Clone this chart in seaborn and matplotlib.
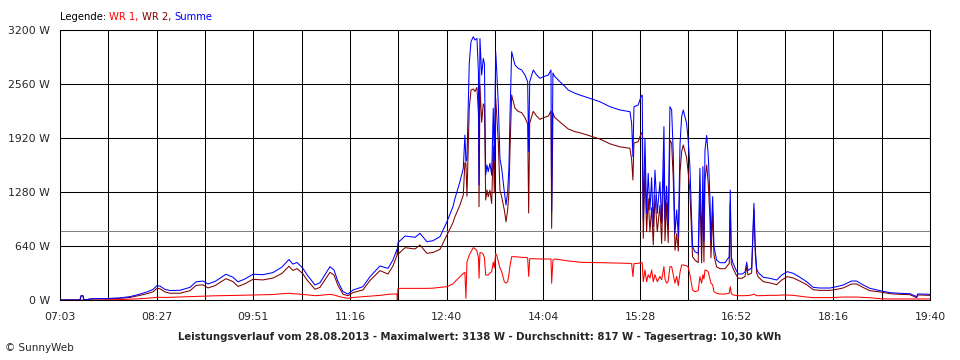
import numpy as np
import pandas as pd
import matplotlib
matplotlib.use("Agg")
import matplotlib.pyplot as plt
import seaborn as sns

# ---- data (time in minutes since midnight, power in W) ----
minutes = [423, 440.4, 441.3, 443.0, 443.9, 450.8, 457.8, 464.8, 475.2, 483.9,
           492.6, 499.6, 503.9, 507.4, 510.0, 514.4, 518.7, 527.4, 536.1, 541.3,
           547.4, 551.8, 557.9, 567.4, 573.5, 577.9, 584.0, 590.9, 599.6, 608.3,
           616.1, 622.2, 625.7, 629.2, 634.4, 637.9, 644.9, 649.2, 657.9, 661.4,
           664.9, 669.2, 673.6, 677.9, 686.6, 692.7, 701.4, 708.4, 712.7, 716.2,
           716.5, 717.1, 723.2, 731.9, 736.2, 742.3, 747.5, 753.6, 759.7, 764.9,
           766.7, 771.0, 773.9, 775.3, 776.2, 777.1, 779.1, 780.6, 782.6, 784.1,
           785.8, 787.1, 787.6, 788.4, 789.9, 791.3, 792.3, 793.4, 794.5, 795.6,
           797.1, 798.6, 800.0, 800.9, 802.1, 803.2, 804.4, 805.8, 807.3, 809.6,
           811.1, 812.5, 813.6, 814.5, 816.0, 817.4, 818.9, 821.7, 824.7, 827.6,
           829.9, 830.8, 831.7, 834.8, 837.8, 840.6, 843.5, 847.9, 850.2, 850.8,
           851.9, 853.4, 856.5, 859.5, 862.4, 865.2, 871.1, 875.4, 884.1, 892.8,
           901.5, 910.2, 918.9, 920.4, 921.5, 922.4, 926.1, 928.5, 929.6, 930.5,
           932.0, 933.4, 934.8, 936.3, 937.8, 939.2, 940.7, 942.7, 945.0, 946.5,
           948.5, 949.4, 950.8, 952.2, 953.7, 955.2, 956.6, 958.1, 959.6, 961.0,
           962.5, 963.9, 965.3, 966.8, 968.2, 969.6, 971.1, 973.4, 975.4, 978.3,
           979.8, 981.3, 982.4, 983.3, 984.2, 985.7, 987.1, 988.5, 989.4, 990.9,
           992.0, 994.3, 997.2, 1001.6, 1005.3, 1006.2, 1007.1, 1008.5, 1011.2, 1013.2,
           1016.4, 1019.0, 1020.5, 1021.6, 1024.8, 1026.8, 1028.0, 1029.2, 1030.6, 1035.0,
           1040.8, 1046.6, 1051.0, 1055.8, 1061.0, 1066.8, 1072.7, 1078.4, 1084.2, 1092.9,
           1098.8, 1104.5, 1111.8, 1116.1, 1121.9, 1127.7, 1136.4, 1145.1, 1153.8, 1162.5,
           1168.4, 1169.5, 1180.0]

summe = [0, 0, 50, 50, 0, 15, 15, 18, 25, 40,
         70, 100, 125, 170, 165, 125, 112, 115, 150, 215,
         225, 190, 220, 305, 270, 215, 250, 305, 300, 325,
         390, 480, 425, 445, 375, 300, 178, 205, 395, 356,
         217, 99, 71, 118, 158, 276, 403, 375, 474, 600,
         600, 680, 758, 743, 790, 691, 703, 750, 928, 1106,
         1205, 1402, 1560, 1955, 1640, 1680, 2805, 3061, 3120, 3081,
         3100, 2700, 1363, 3100, 2666, 2864, 2800, 1481, 1600, 1520,
         1620, 1480, 2272, 1650, 2943, 2666, 2311, 1679, 1560, 1284,
         1126, 1284, 1560, 2153, 2943, 2864, 2785, 2745, 2726, 2666,
         2587, 1758, 2587, 2726, 2666, 2627, 2646, 2666, 2726, 1047,
         2690, 2650, 2607, 2567, 2530, 2489, 2450, 2429, 2390, 2350,
         2291, 2252, 2232, 2094, 1698, 2291, 2311, 2410, 2429, 948,
         1916, 1027, 1501, 1067, 1450, 870, 1540, 1027, 1400, 910,
         2054, 950, 1350, 900, 2291, 2252, 1738, 790, 1067, 750,
         1850, 2172, 2252, 2172, 2094, 1900, 1580, 632, 573, 553,
         1560, 640, 1580, 700, 1778, 1950, 1700, 1225, 700, 1225,
         632, 474, 442, 442, 513, 1304, 513, 440, 356, 308,
         308, 330, 447, 350, 380, 1146, 600, 370, 324, 269,
         257, 237, 296, 336, 316, 269, 217, 150, 142, 142,
         158, 178, 225, 225, 178, 138, 111, 87, 79, 75,
         40, 72, 67]

wr1 = [0, 0, 0, 0, 0, 0, 0, 3, 5, 10,
       15, 22, 28, 32, 32, 30, 32, 35, 40, 42,
       45, 47, 50, 52, 52, 55, 57, 60, 62, 65,
       75, 80, 75, 72, 65, 62, 51, 55, 67, 60,
       45, 30, 20, 30, 39, 45, 55, 67, 71, 71,
       0, 138, 138, 138, 138, 138, 140, 150, 158, 190,
       217, 276, 316, 328, 20, 450, 533, 573, 620, 610,
       580, 500, 257, 560, 560, 540, 500, 296, 296, 296,
       320, 336, 450, 380, 553, 520, 454, 380, 336, 217,
       200, 217, 300, 400, 513, 513, 513, 510, 505, 505,
       500, 280, 490, 490, 488, 486, 486, 486, 486, 198,
       470, 486, 480, 475, 470, 462, 455, 447, 445, 442,
       440, 437, 434, 430, 277, 430, 435, 442, 442, 217,
       356, 217, 300, 260, 356, 217, 300, 217, 280, 240,
       395, 250, 200, 220, 395, 395, 300, 200, 280, 170,
       330, 415, 415, 410, 405, 390, 300, 118, 99, 110,
       276, 200, 300, 250, 356, 350, 330, 250, 200, 180,
       99, 80, 71, 71, 80, 158, 80, 60, 55, 51,
       51, 51, 55, 52, 60, 70, 60, 51, 51, 52,
       55, 55, 59, 59, 55, 45, 35, 28, 28, 28,
       32, 35, 35, 35, 30, 28, 15, 12, 12, 12,
       12, 12, 12]

wr2 = [0, 0, 50, 50, 0, 15, 15, 15, 20, 30,
       55, 78, 97, 138, 133, 95, 80, 80, 110, 173,
       180, 143, 170, 253, 218, 160, 193, 245, 238, 260,
       315, 400, 350, 373, 310, 238, 127, 150, 328, 296,
       172, 69, 51, 88, 119, 231, 348, 308, 403, 529,
       600, 542, 620, 605, 652, 553, 563, 600, 770, 916,
       988, 1126, 1244, 1627, 1620, 1230, 2272, 2488, 2500, 2471,
       2520, 2200, 1106, 2540, 2106, 2324, 2300, 1185, 1304, 1224,
       1300, 1144, 1822, 1270, 2390, 2146, 1857, 1299, 1224, 1067,
       926, 1067, 1260, 1753, 2430, 2351, 2272, 2235, 2221, 2161,
       2087, 1031, 2097, 2236, 2178, 2141, 2160, 2180, 2240, 849,
       2220, 2164, 2127, 2092, 2060, 2027, 1995, 1982, 1945, 1908,
       1851, 1815, 1798, 1664, 1422, 1861, 1876, 1968, 1987, 731,
       1560, 810, 1201, 807, 1094, 653, 1240, 810, 1120, 670,
       1659, 700, 1150, 680, 1896, 1857, 1438, 590, 787, 580,
       1520, 1757, 1837, 1762, 1689, 1510, 1280, 514, 474, 443,
       1284, 440, 1280, 450, 1422, 1600, 1370, 975, 500, 1045,
       533, 394, 371, 371, 433, 1146, 433, 380, 301, 257,
       257, 279, 392, 298, 320, 1076, 540, 319, 273, 217,
       202, 182, 237, 277, 261, 224, 182, 122, 114, 114,
       126, 143, 190, 190, 148, 110, 96, 75, 67, 63,
       28, 60, 55]

series_names = ["WR 1", "WR 2", "Summe"]
series_colors = ["#ff0000", "#800000", "#0000ff"]
x_labels = ["07:03", "08:27", "09:51", "11:16", "12:40", "14:04",
            "15:28", "16:52", "18:16", "19:40"]
y_values = [0, 640, 1280, 1920, 2560, 3200]
durchschnitt = 817
titel = ("Leistungsverlauf vom 28.08.2013 - Maximalwert: 3138 W - "
         "Durchschnitt: 817 W - Tagesertrag: 10,30 kWh")

df = pd.DataFrame({"t": minutes, "WR 1": wr1, "WR 2": wr2, "Summe": summe})
long = df.melt(id_vars="t", var_name="serie", value_name="W")

# ---- plot ----
sns.set_style("white")
plt.rcParams["font.family"] = ["DejaVu Sans"]
fig = plt.figure(figsize=(9.6, 3.6), dpi=100)
ax = fig.add_axes([60 / 960, 60 / 360, 870 / 960, 270 / 360])

t0, t1 = minutes[0], minutes[-1]
minor = np.linspace(t0, t1, 19)
major = np.linspace(t0, t1, 10)
for xv in minor:
    ax.axvline(xv, color="black", lw=0.75, zorder=1)
for yv in y_values:
    ax.axhline(yv, color="black", lw=0.75, zorder=1)
ax.axhline(durchschnitt, color="#808080", lw=0.75, zorder=1)

sns.lineplot(data=long, x="t", y="W", hue="serie", hue_order=series_names,
             palette=series_colors, estimator=None, legend=False,
             lw=0.75, ax=ax, zorder=3)

ax.set_xlim(t0, t1)
ax.set_ylim(0, 3200)
ax.set_xticks(minor, minor=True)
ax.set_xticks(major)
ax.set_xticklabels(x_labels)
ax.set_yticks(y_values)
ax.set_yticklabels([f"{v} W" for v in y_values])
ax.tick_params(axis="both", which="both", direction="out", length=3.6,
               width=0.75, color="black", labelsize=7.8, pad=3.5)
ax.tick_params(axis="x", which="major", pad=5)
ax.set_xlabel("")
ax.set_ylabel("")
for s in ax.spines.values():
    s.set_color("black")
    s.set_linewidth(0.75)

# legend text in colours
fig.canvas.draw()
r = fig.canvas.get_renderer()
xpos = 60 / 960
ypos = 1 - 17 / 360
parts = [("Legende: ", "black")] + [
    (n + (", " if i < 2 else ""), c)
    for i, (n, c) in enumerate(zip(series_names, series_colors))]
for txt, col in parts:
    tt = fig.text(xpos, ypos, txt, color=col, fontsize=7.2, va="center", ha="left")
    bb = tt.get_window_extent(renderer=r)
    xpos += bb.width / 960

fig.text(0.5, 1 - 337 / 360, titel, ha="center", va="center",
         fontsize=7.3, fontweight="bold")
fig.text(5 / 960, 1 - 348 / 360, "© SunnyWeb", ha="left", va="center",
         fontsize=7.5)

fig.savefig("out.png", dpi=100, facecolor="white")
